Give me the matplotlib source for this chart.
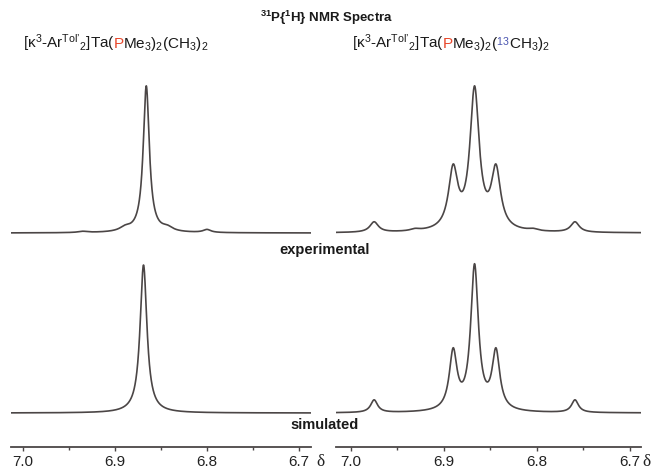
import numpy as np
import matplotlib
matplotlib.use("Agg")
import matplotlib.pyplot as plt
from matplotlib.ticker import MultipleLocator, FormatStrFormatter

plt.rcParams["font.family"] = ["Liberation Sans", "DejaVu Sans"]
plt.rcParams["mathtext.fontset"] = "custom"
plt.rcParams["mathtext.rm"] = "Liberation Sans"
plt.rcParams["mathtext.it"] = "Liberation Sans:italic"
plt.rcParams["mathtext.bf"] = "Liberation Sans:bold"

# ---- 31P{1H} line lists: chemical shift (ppm), amplitude, half-width (ppm) ----
# left compound, experimental
exp_left_shift = [6.866, 6.889, 6.843, 6.800, 6.935]
exp_left_amp = [99.0, 2.5, 2.5, 2.0, 0.8]
exp_left_hw = [0.0040, 0.0070, 0.0070, 0.0050, 0.0060]
# left compound, simulated
sim_left_shift = [6.869]
sim_left_amp = [100.0]
sim_left_hw = [0.0045]
# 13C-labelled compound, experimental
exp_right_shift = [6.867, 6.890, 6.844, 6.975, 6.759, 6.931, 6.804]
exp_right_amp = [94.3, 39.9, 39.9, 7.0, 7.0, 1.2, 1.2]
exp_right_hw = [0.0060, 0.0060, 0.0060, 0.0055, 0.0055, 0.0060, 0.0060]
# 13C-labelled compound, simulated
sim_right_shift = [6.867, 6.890, 6.844, 6.975, 6.759]
sim_right_amp = [97.3, 39.2, 39.2, 8.5, 8.5]
sim_right_hw = [0.0050, 0.0050, 0.0050, 0.0045, 0.0045]

major_ticks = [7.0, 6.9, 6.8, 6.7]

W, H = 654, 468
fig = plt.figure(figsize=(W / 100, H / 100), dpi=100)
fig.patch.set_facecolor("white")

LINE = "#4b4646"
PX = 1.48          # pixels per intensity unit
AX_TOP, AX_BOT = 70, 447
exp_base = (AX_BOT - 233) / PX
sim_base = (AX_BOT - 413) / PX


def spectrum(x, shifts, amps, hws):
    y = np.zeros_like(x)
    for c, a, g in zip(shifts, amps, hws):
        y += a / (1.0 + ((x - c) / g) ** 2)
    return y


def make_axes(x0, x1, xl, xr):
    ax = fig.add_axes([x0 / W, 1 - AX_BOT / H, (x1 - x0) / W, (AX_BOT - AX_TOP) / H])
    ax.set_xlim(xl, xr)
    ax.set_ylim(0, (AX_BOT - AX_TOP) / PX)
    for s in ("left", "right", "top"):
        ax.spines[s].set_visible(False)
    ax.spines["bottom"].set_color(LINE)
    ax.spines["bottom"].set_linewidth(1.3)
    ax.set_yticks([])
    ax.set_xticks(major_ticks)
    ax.xaxis.set_minor_locator(MultipleLocator(0.05))
    ax.xaxis.set_major_formatter(FormatStrFormatter("%.1f"))
    ax.tick_params(axis="x", which="major", direction="out", length=3, width=1,
                   color=LINE, labelsize=11, pad=2.5, labelcolor="#222222")
    ax.tick_params(axis="x", which="minor", direction="out", length=2, width=1, color=LINE)
    ax.patch.set_alpha(0)
    return ax


axL = make_axes(11, 311, 7.013, 6.687)
axR = make_axes(336, 641, 7.016, 6.688)

xl = np.linspace(7.013, 6.687, 3000)
xr = np.linspace(7.016, 6.688, 3000)
axL.plot(xl, exp_base + spectrum(xl, exp_left_shift, exp_left_amp, exp_left_hw), color=LINE, lw=1.2)
axL.plot(xl, sim_base + spectrum(xl, sim_left_shift, sim_left_amp, sim_left_hw), color=LINE, lw=1.2)
axR.plot(xr, exp_base + spectrum(xr, exp_right_shift, exp_right_amp, exp_right_hw), color=LINE, lw=1.2)
axR.plot(xr, sim_base + spectrum(xr, sim_right_shift, sim_right_amp, sim_right_hw), color=LINE, lw=1.2)

# delta symbols at the end of each axis
for xpix in (320, 646):
    fig.text(xpix / W, 1 - 465.5 / H, "δ", fontsize=12.5, family="Liberation Serif",
             ha="center", va="baseline", color="#222222")

# section labels
fig.text(325 / W, 1 - 250 / H, "experimental", fontsize=10.5, fontweight="bold",
         ha="center", va="center", color="#1a1a1a")
fig.text(325 / W, 1 - 425 / H, "simulated", fontsize=10.5, fontweight="bold",
         ha="center", va="center", color="#1a1a1a")

# title
fig.text(327 / W, 1 - 18 / H, r"$^{\mathbf{31}}$P{$^{\mathbf{1}}$H} NMR Spectra",
         fontsize=9.5, fontweight="bold", ha="center", va="center", color="#1a1a1a")

renderer = fig.canvas.get_renderer()


def measure(s, size):
    t = fig.text(0, 0, s, fontsize=size)
    w = t.get_window_extent(renderer).width
    t.remove()
    return w


def rich_line(pieces, xc, ybase, size):
    # place each coloured piece where it would start inside the full string
    full = "".join(s for s, _ in pieces)
    x0 = xc - measure(full, size) / 2
    acc = ""
    for s, c in pieces:
        acc += s
        x = x0 + measure(acc, size) - measure(s, size)
        fig.text(x / W, 1 - ybase / H, s, fontsize=size, color=c, ha="left", va="baseline")


DARK = "#1a1a1a"
RED = "#e8472b"
BLUE = "#4a55b0"
head = r"[κ$^3$-Ar$^{\mathrm{Tol’}}$$_2$]Ta("
P = r"$\mathrm{P}$"
rich_line([(head, DARK), (P, RED), (r"Me$_3$)$_2$(CH$_3$)$_2$", DARK)], 116, 48, 11)
rich_line([(head, DARK), (P, RED), (r"Me$_3$)$_2$(", DARK), (r"$^{13}$", BLUE),
           (r"CH$_3$)$_2$", DARK)], 451, 48, 11)

fig.savefig("out.png", dpi=100, facecolor="white")
